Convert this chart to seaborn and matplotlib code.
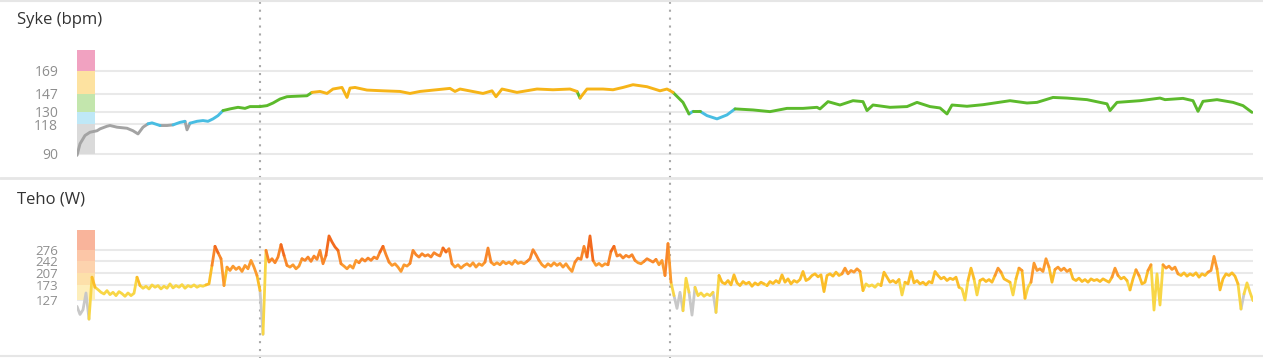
import numpy as np
import pandas as pd
import matplotlib
matplotlib.use("Agg")
import matplotlib.pyplot as plt
from matplotlib.lines import Line2D
import seaborn as sns

# ---------------- data ----------------
# Heart rate (bpm), time in minutes
hr_time = [0.0, 0.3, 0.8, 1.3, 2.0, 2.3, 3.0, 3.3, 4.0, 5.0, 5.6, 6.1, 6.6, 7.1, 7.5, 8.3, 9.0, 9.6,
           10.3, 10.8, 11.0, 11.3, 12.0, 12.6, 13.1, 13.6, 14.1, 14.6, 15.3, 16.1, 16.8, 17.3, 18.3,
           19.0, 19.6, 20.3, 21.0, 21.6, 23.0, 23.5, 24.3, 25.0, 25.6, 26.5, 27.0, 27.3, 27.8, 29.0,
           30.6, 32.3, 33.3, 34.3, 37.3, 37.8, 38.3, 40.6, 41.5, 41.9, 42.5, 44.0, 46.0, 47.6, 49.3,
           50.0, 50.3, 51.0, 52.6, 53.6, 54.6, 55.6, 57.0, 58.3, 59.0, 59.6, 60.6, 61.2, 61.6, 62.3,
           63.0, 64.0, 65.0, 65.8, 67.6, 69.3, 71.0, 72.6, 74.0, 74.3, 75.1, 76.3, 77.6, 78.6, 79.0,
           79.6, 81.3, 83.0, 84.0, 85.3, 86.3, 87.0, 87.5, 89.0, 90.6, 93.3, 95.0, 96.0, 97.6, 99.0,
           101.0, 102.3, 103.0, 103.3, 104.0, 106.3, 108.3, 108.8, 110.6, 111.6, 112.1, 112.6, 114.0,
           115.6, 116.6, 117.5]
hr_bpm = [88.6, 99.6, 107.5, 110.6, 112.0, 113.8, 116.3, 117.0, 115.4, 114.4, 112.0, 109.0, 115.4,
          118.6, 119.5, 117.0, 117.0, 117.6, 120.0, 121.0, 112.9, 119.2, 121.0, 121.7, 121.0, 123.3,
          126.4, 131.2, 132.8, 134.3, 133.3, 135.0, 135.0, 135.9, 138.4, 142.2, 144.4, 144.7, 145.3,
          148.5, 149.4, 147.5, 151.7, 153.2, 143.7, 152.6, 153.2, 150.7, 150.0, 149.4, 147.5, 149.4,
          152.3, 149.4, 151.7, 147.5, 150.0, 144.4, 151.7, 148.5, 151.7, 151.0, 151.7, 149.4, 143.1,
          151.7, 151.7, 151.0, 153.2, 155.8, 153.9, 150.0, 151.7, 148.5, 139.0, 128.0, 130.5, 130.5,
          126.4, 123.3, 127.1, 132.8, 131.8, 130.2, 133.3, 133.3, 134.3, 132.8, 139.7, 136.5, 140.6,
          139.7, 131.2, 136.5, 134.3, 135.0, 139.0, 135.0, 133.7, 128.0, 136.5, 135.3, 136.8, 140.6,
          138.4, 139.0, 143.7, 143.1, 141.6, 139.0, 137.6, 131.2, 139.0, 140.6, 143.1, 141.6, 142.8,
          140.6, 130.5, 140.0, 141.6, 139.0, 135.9, 129.5]

# Power (W), one reading every 0.3 min
power_step_min = 0.3
power_w = [
    108, 84, 98, 148, 70, 195, 165, 158, 150, 145, 155, 143, 150, 140, 152, 146, 138, 148, 140, 147,
    195, 170, 162, 168, 160, 172, 165, 170, 160, 168, 162, 175, 163, 170, 165, 173, 162, 170, 166, 172,
    165, 170, 168, 172, 175, 230, 287, 268, 250, 170, 225, 215, 228, 218, 225, 212, 230, 220, 245, 225,
    200, 155, 25, 275, 240, 250, 238, 255, 292, 260, 230, 225, 232, 220, 228, 250, 245, 255, 242, 258,
    248, 275, 235, 260, 318, 300, 285, 275, 235, 228, 220, 230, 222, 245, 238, 250, 243, 252, 245, 255,
    250, 270, 287, 262, 240, 230, 235, 225, 212, 232, 228, 236, 275, 262, 255, 265, 258, 262, 255, 268,
    262, 258, 282, 270, 280, 235, 225, 232, 222, 230, 235, 228, 238, 225, 235, 230, 240, 282, 240, 232,
    238, 232, 242, 235, 240, 233, 245, 236, 240, 235, 242, 250, 277, 262, 245, 232, 225, 235, 228, 238,
    230, 236, 225, 235, 222, 212, 240, 252, 248, 287, 255, 318, 245, 230, 236, 228, 235, 232, 272, 287,
    258, 262, 252, 260, 255, 262, 245, 238, 235, 242, 250, 245, 240, 248, 232, 245, 200, 295, 180, 140,
    102, 150, 95, 192, 150, 82, 165, 140, 148, 138, 145, 140, 150, 90, 200, 180, 175, 185, 172, 202,
    178, 170, 182, 175, 180, 168, 178, 172, 180, 175, 170, 182, 176, 185, 178, 202, 180, 190, 175, 185,
    180, 188, 212, 185, 190, 200, 205, 196, 202, 152, 200, 205, 198, 210, 200, 205, 222, 205, 215, 210,
    220, 212, 155, 175, 168, 172, 165, 175, 170, 210, 195, 180, 185, 178, 188, 142, 180, 175, 212, 178,
    185, 175, 180, 172, 182, 178, 212, 200, 190, 195, 185, 192, 188, 195, 165, 160, 127, 185, 222, 190,
    142, 185, 190, 182, 188, 180, 200, 222, 210, 190, 185, 180, 142, 190, 222, 215, 132, 165, 180, 237,
    215, 220, 212, 250, 225, 180, 218, 225, 215, 222, 212, 218, 190, 185, 192, 182, 188, 180, 190, 185,
    188, 182, 190, 185, 180, 195, 222, 200, 190, 195, 185, 157, 190, 217, 200, 175, 180, 215, 232, 97,
    205, 112, 232, 222, 228, 218, 225, 205, 200, 208, 198, 205, 200, 208, 195, 205, 200, 210, 215, 257,
    220, 157, 190, 205, 200, 208, 198, 175, 100, 145, 178, 150, 125,
]

lap_times = [18.3, 59.3]

hr_zone_bounds = [90, 118, 130, 147, 169, 189]
hr_tick_labels = ["90", "118", "130", "147", "169"]
pw_zone_bounds = [127, 173, 207, 242, 276, 336]
pw_tick_labels = ["127", "173", "207", "242", "276"]

# ---------------- styles ----------------
hr_line_colors = ["#a3a3a3", "#48bde2", "#5cba2c", "#f6b418", "#ee6fa0"]
hr_zone_colors = ["#dadada", "#bfe8f7", "#c3e6ad", "#fde2a0", "#f1a2c1"]
pw_line_colors = ["#c8c8c8", "#f8d646", "#fbbd28", "#fb9a2f", "#f8872a", "#f26a1e"]
pw_zone_colors = ["#fdeebb", "#fde0aa", "#fdd3ae", "#fcc6a7", "#f9b49b"]

sns.set_theme(style="white")
plt.rcParams["font.family"] = ["Open Sans", "DejaVu Sans"]

W, H = 1263, 358
fig = plt.figure(figsize=(W / 100, H / 100), dpi=100)
x0, x1 = 77, 1253
ax1 = fig.add_axes([x0 / W, (H - 177.5) / H, (x1 - x0) / W, 177 / H])
ax2 = fig.add_axes([x0 / W, (H - 357) / H, (x1 - x0) / W, (357 - 177.5) / H])


def runs_frame(t, v, thresholds):
    t = np.asarray(t, float)
    v = np.asarray(v, float)
    mid = (v[:-1] + v[1:]) / 2
    z = np.digitize(mid, thresholds)
    rows = []
    seg = 0
    start = 0
    for i in range(1, len(z) + 1):
        if i == len(z) or z[i] != z[start]:
            for k in range(start, i + 1):
                rows.append((t[k], v[k], seg, int(z[start])))
            seg += 1
            start = i
    return pd.DataFrame(rows, columns=["t", "v", "seg", "zone"])


def panel(ax, t, v, bounds, labels, zone_colors, line_colors, thresholds, ylim, lw, fs):
    ax.set_xlim(0, 117.6)
    ax.set_ylim(*ylim)
    ax.set_axisbelow(True)
    ax.grid(axis="y", color="#e9e9e9", lw=1.5)
    ax.grid(axis="x", visible=False)
    for s in ax.spines.values():
        s.set_visible(False)
    ax.set_yticks(bounds[:-1])
    ax.set_yticklabels(labels)
    ax.tick_params(axis="y", length=0, pad=13.5, labelsize=fs, labelcolor="#8e8e8e")
    ax.set_xticks([])
    lo = np.array(bounds[:-1])
    hi = np.array(bounds[1:])
    ax.bar(np.zeros(len(lo)), hi - lo, bottom=lo, width=1.8, align="edge",
           color=zone_colors, linewidth=0, zorder=1.5)
    df = runs_frame(t, v, thresholds)
    pal = {i: c for i, c in enumerate(line_colors)}
    sns.lineplot(data=df, x="t", y="v", hue="zone", units="seg", estimator=None,
                 palette=pal, legend=False, lw=lw, ax=ax, zorder=3, sort=False)
    ax.set_xlabel("")
    ax.set_ylabel("")


panel(ax1, hr_time, hr_bpm, hr_zone_bounds, hr_tick_labels, hr_zone_colors,
      hr_line_colors, [118, 130, 147, 169], (67.55, 235.9), 2.1, 10)

pw_time = np.arange(len(power_w)) * power_step_min
panel(ax2, pw_time, power_w, pw_zone_bounds, pw_tick_labels, pw_zone_colors,
      pw_line_colors, [127, 173, 207, 242, 276], (-42.8, 492), 2.0, 9.5)

for t in lap_times:
    ax1.axvline(t, ymin=0, ymax=1.01, clip_on=False, color="#a9a9a9", lw=1.5,
                ls=(0, (1, 2.8)), zorder=2)
    ax2.axvline(t, ymin=-0.01, ymax=1, clip_on=False, color="#a9a9a9", lw=1.5,
                ls=(0, (1, 2.8)), zorder=2)

for ypx, lw in [(1, 1.5), (177.5, 2.0), (356, 1.5)]:
    fig.add_artist(Line2D([0, 1], [1 - ypx / H, 1 - ypx / H], transform=fig.transFigure,
                          color="#e6e6e6", lw=lw))

fig.text(17 / W, 1 - 20 / H, "Syke (bpm)", fontsize=12, color="#333333", ha="left", va="center")
fig.text(17 / W, 1 - 200 / H, "Teho (W)", fontsize=12, color="#333333", ha="left", va="center")

fig.savefig("out.png", dpi=100, facecolor="white")
